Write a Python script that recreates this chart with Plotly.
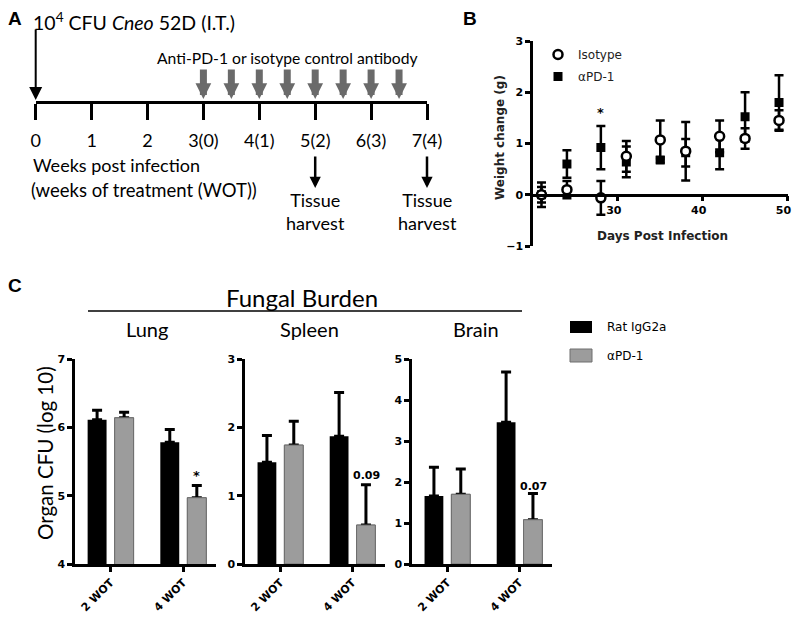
import plotly.graph_objects as go

OFF = 8  # the page body adds an 8px margin around the plot div
W, H = 800 - 2 * OFF, 619 - OFF

# ---- panel A: timeline ----
weeks = [0, 1, 2, 3, 4, 5, 6, 7]
week_labels = ["0", "1", "2", "3(0)", "4(1)", "5(2)", "6(3)", "7(4)"]
dose_weeks = [3, 3.5, 4, 4.5, 5, 5.5, 6, 6.5]
harvest_weeks = [5, 7]

# ---- panel B: weight change ----
days = [21, 24, 28, 31, 35, 38, 42, 45, 49]
iso_mean = [0.0, 0.10, -0.06, 0.75, 1.07, 0.85, 1.14, 1.10, 1.45]
iso_sd = [0.24, 0.17, 0.33, 0.30, 0.38, 0.57, 0.31, 0.20, 0.20]
pd1_mean = [0.0, 0.60, 0.92, 0.64, 0.68, 0.82, 0.82, 1.52, 1.80]
pd1_sd = [0.15, 0.27, 0.42, 0.30, 0.05, 0.27, 0.32, 0.48, 0.53]

# ---- panel C: fungal burden ----
wot = ["2 WOT", "4 WOT"]
lung_rat = [6.11, 5.78]
lung_rat_sd = [0.14, 0.19]
lung_pd1 = [6.14, 4.97]
lung_pd1_sd = [0.08, 0.18]
spleen_rat = [1.49, 1.87]
spleen_rat_sd = [0.39, 0.64]
spleen_pd1 = [1.74, 0.57]
spleen_pd1_sd = [0.35, 0.59]
brain_rat = [1.66, 3.46]
brain_rat_sd = [0.70, 1.22]
brain_pd1 = [1.70, 1.08]
brain_pd1_sd = [0.62, 0.64]

BLACK = "#000000"
GREY = "#9c9c9c"
GREY_EDGE = "#6e6e6e"
CAL = "Lato"
PRISM = "DejaVu Sans"


def xp(p):
    return (p - OFF) / W


def yp(p):
    return 1 - (p - OFF) / H


fig = go.Figure()

# timeline anchor trace (invisible)
fig.add_trace(go.Scatter(x=weeks, y=[0] * len(weeks), xaxis="x", yaxis="y",
                         mode="markers", marker=dict(opacity=0),
                         hoverinfo="skip", showlegend=False))

# panel B
fig.add_trace(go.Scatter(
    x=days, y=pd1_mean, name="\u03b1PD-1", xaxis="x2", yaxis="y2",
    mode="markers", legendrank=2, legendgroup="pd1",
    marker=dict(symbol="square", size=9, color=BLACK),
    error_y=dict(type="data", array=pd1_sd, thickness=2.5, width=4.5, color=BLACK),
))
fig.add_trace(go.Scatter(
    x=days, y=iso_mean, name="Isotype", xaxis="x2", yaxis="y2",
    mode="markers", legendrank=1, legendgroup="iso",
    marker=dict(symbol="circle", size=9, color="white", line=dict(color=BLACK, width=2.5)),
    error_y=dict(type="data", array=iso_sd, thickness=2.5, width=4.5, color=BLACK),
))

# panel C
organs = [
    ("x3", "y3", lung_rat, lung_rat_sd, lung_pd1, lung_pd1_sd),
    ("x4", "y4", spleen_rat, spleen_rat_sd, spleen_pd1, spleen_pd1_sd),
    ("x5", "y5", brain_rat, brain_rat_sd, brain_pd1, brain_pd1_sd),
]
for xa, ya, rat, rat_sd, pd1, pd1_sd in organs:
    err = dict(type="data", symmetric=False, thickness=3, width=5, color=BLACK)
    fig.add_trace(go.Bar(x=wot, y=rat, xaxis=xa, yaxis=ya, offsetgroup="rat",
                         marker=dict(color=BLACK, line=dict(width=0)),
                         error_y={**err, "array": rat_sd}, showlegend=False))
    fig.add_trace(go.Bar(x=wot, y=pd1, xaxis=xa, yaxis=ya, offsetgroup="pd1",
                         marker=dict(color=GREY, line=dict(color=GREY_EDGE, width=1)),
                         error_y={**err, "array": pd1_sd}, showlegend=False))
    # same bars again on top so the lower cap of the error bar is hidden
    fig.add_trace(go.Bar(x=wot, y=pd1, xaxis=xa, yaxis=ya, offsetgroup="pd1",
                         marker=dict(color=GREY, line=dict(color=GREY_EDGE, width=1)),
                         showlegend=False, hoverinfo="skip"))

prism_tick = dict(family=PRISM, size=11, color=BLACK, weight="bold")
ax = dict(showline=True, linecolor=BLACK, linewidth=2.5, ticks="outside",
          tickcolor=BLACK, tickwidth=2.5, ticklen=5, showgrid=False,
          zeroline=False, tickfont=prism_tick, fixedrange=True, automargin=False)

c_top, c_bot = 359, 564
layout_axes = dict(
    xaxis=dict(domain=[xp(35.7), xp(427)], range=[0, 7], anchor="y",
               showline=True, linecolor=BLACK, linewidth=2.5, ticks="outside",
               tickcolor=BLACK, tickwidth=2.5, ticklen=16, showgrid=False,
               zeroline=False, tickvals=weeks, ticktext=week_labels,
               tickfont=dict(family=CAL, size=18, color=BLACK),
               ticklabelstandoff=6, automargin=False, fixedrange=True),
    yaxis=dict(domain=[yp(101), 1], range=[0, 1], visible=False, automargin=False,
               fixedrange=True),
    xaxis2=dict(ax, domain=[xp(533), xp(787.5)], range=[20, 50], anchor="free",
                position=yp(194.5), tickvals=[30, 40, 50],
                ticklabelshift=-4, ticklabeloverflow="allow"),
    yaxis2=dict(ax, domain=[yp(246), yp(41)], range=[-1, 3], anchor="x2",
                tickvals=[-1, 0, 1, 2, 3]),
    xaxis3=dict(ax, domain=[xp(75), xp(216)], range=[-0.49, 1.45], anchor="y3",
                tickangle=-45, type="category"),
    yaxis3=dict(ax, domain=[yp(c_bot), yp(c_top)], range=[4, 7], anchor="x3",
                tickvals=[4, 5, 6, 7]),
    xaxis4=dict(ax, domain=[xp(245), xp(385)], range=[-0.49, 1.45], anchor="y4",
                tickangle=-45, type="category"),
    yaxis4=dict(ax, domain=[yp(c_bot), yp(c_top)], range=[0, 3], anchor="x4",
                tickvals=[0, 1, 2, 3]),
    xaxis5=dict(ax, domain=[xp(412), xp(552)], range=[-0.49, 1.45], anchor="y5",
                tickangle=-45, type="category"),
    yaxis5=dict(ax, domain=[yp(c_bot), yp(c_top)], range=[0, 5], anchor="x5",
                tickvals=[0, 1, 2, 3, 4, 5]),
)

ann = []


def text(x, y, s, size=18, family=CAL, xanchor="center", bold=False, angle=0,
         color=BLACK, xref="paper", yref="paper", xshift=0):
    ann.append(dict(x=x, y=y, xref=xref, yref=yref, text=s, showarrow=False,
                    xanchor=xanchor, yanchor="middle", textangle=angle, xshift=xshift,
                    font=dict(family=family, size=size, color=color,
                              weight="bold" if bold else "normal")))


def arrow(x, tip, length, width, color, size, head=2):
    ann.append(dict(x=x, y=yp(tip), xref="x", yref="paper", ax=0, ay=-length,
                    axref="pixel", ayref="pixel", text="", showarrow=True,
                    arrowhead=head, arrowwidth=width, arrowsize=size,
                    arrowcolor=color))


# panel A
text(xp(15), yp(19), "A", size=19, family="Liberation Sans", bold=True)
text(xp(31), yp(21), "10<sup>4</sup> CFU <i>Cneo</i> 52D (I.T.)", size=19.5,
     xanchor="left")
arrow(0, 100, 72, 2, BLACK, 1.3)
text(xp(287), yp(58), "Anti-PD-1 or isotype control antibody", size=15.7)
for w in dose_weeks:
    arrow(w, 99, 31, 7, "#6a6a6a", 0.45)
text(xp(31), yp(165), "Weeks post infection", xanchor="left")
text(xp(29), yp(190), "(weeks of treatment (WOT))", size=18.5, xanchor="left")
for w in harvest_weeks:
    arrow(w, 188, 33, 2.5, BLACK, 0.9)
    ann.append(dict(x=w, y=yp(211), xref="x", yref="paper", showarrow=False,
                    text="Tissue<br>harvest", align="center", yanchor="middle",
                    font=dict(family=CAL, size=18, color=BLACK)))

# panel B
text(xp(470), yp(19), "B", size=19, family="Liberation Sans", bold=True)
text(xp(500), yp(138), "Weight change (g)", size=12, family=PRISM, angle=-90,
     bold=True, color="#222")
text(xp(662), yp(236), "Days Post Infection", size=12, family=PRISM, bold=True,
     color="#222")
text(28, 1.6, "*", size=13, family=PRISM, bold=True, xref="x2", yref="y2")

# panel C
text(xp(15), yp(285), "C", size=19, family="Liberation Sans", bold=True)
text(xp(302), yp(297), "Fungal Burden", size=24)
text(xp(147), yp(329), "Lung", size=20)
text(xp(309), yp(329), "Spleen", size=20)
text(xp(476), yp(329), "Brain", size=20)
text(xp(45), yp(453), "Organ CFU (log 10)", size=20.5, angle=-90)
text("4 WOT", 5.3, "*", size=13, family=PRISM, bold=True, xref="x3", yref="y3",
     xshift=13.5)
text("4 WOT", 1.3, "0.09", size=11, family=PRISM, bold=True, xref="x4",
     yref="y4", xshift=13.5)
text("4 WOT", 1.9, "0.07", size=11, family=PRISM, bold=True, xref="x5",
     yref="y5", xshift=13.5)
text(xp(605), yp(327), "Rat IgG2a", size=12, family=PRISM, xanchor="left")
text(xp(605), yp(356), "\u03b1PD-1", size=12, family=PRISM, xanchor="left")

shapes = [
    dict(type="line", xref="paper", yref="paper", x0=xp(88), x1=xp(522),
         y0=yp(311), y1=yp(311), line=dict(color=BLACK, width=1.5)),
    dict(type="rect", xref="paper", yref="paper", x0=xp(570), x1=xp(592),
         y0=yp(333), y1=yp(321), fillcolor=BLACK, line=dict(width=0)),
    dict(type="rect", xref="paper", yref="paper", x0=xp(570), x1=xp(592),
         y0=yp(362), y1=yp(349), fillcolor=GREY, line=dict(color=GREY_EDGE, width=1)),
]

fig.update_layout(
    width=W, height=H, autosize=False, margin=dict(l=0, r=0, t=0, b=0, pad=0),
    plot_bgcolor="white", paper_bgcolor="white",
    barmode="group", bargap=0.256, bargroupgap=0.3,
    showlegend=True,
    legend=dict(x=xp(538), y=yp(40), xanchor="left", yanchor="top",
                bgcolor="rgba(0,0,0,0)", tracegroupgap=3,
                font=dict(family=PRISM, size=12, color="#222")),
    annotations=ann, shapes=shapes,
    **layout_axes,
)

fig.write_html("out.html")
